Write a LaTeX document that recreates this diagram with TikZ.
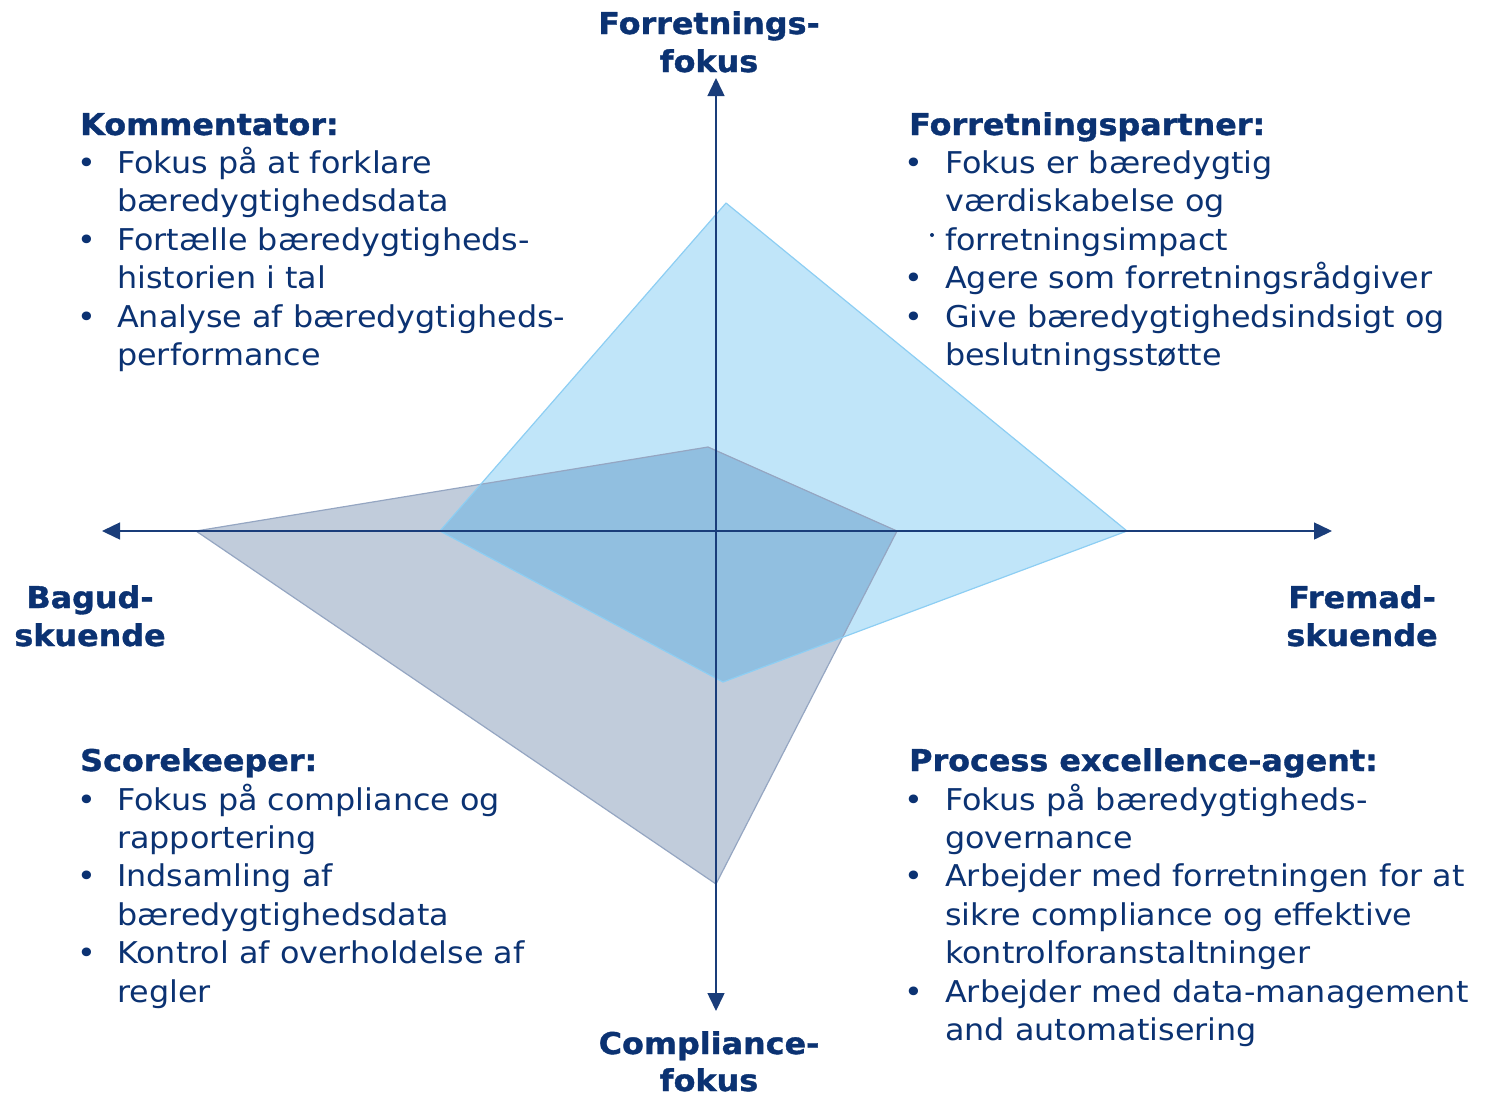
\documentclass[tikz,border=0pt]{standalone}
\usepackage{fontspec}
\setmainfont[FakeStretch=1.06, BoldFeatures={FakeBold=1.2}]{DejaVu Sans}
\usetikzlibrary{arrows.meta}
\definecolor{navy}{HTML}{0B3272}
\definecolor{axisc}{HTML}{1A3D7A}
\definecolor{grayfill}{HTML}{C1CCDB}
\definecolor{grayedge}{HTML}{95A6C2}
\definecolor{bluefill}{HTML}{C0E5F9}
\definecolor{blueedge}{HTML}{8DCEF3}
\definecolor{overlap}{HTML}{91BFE0}
\tikzset{
  body/.style={anchor=base west, inner sep=0, text=navy, font=\fontsize{30}{36}\selectfont},
  ttl/.style={anchor=base west, inner sep=0, text=navy, font=\fontsize{30}{36}\selectfont\bfseries},
  blt/.style={anchor=base, inner sep=0, text=navy, font=\fontsize{30}{36}\selectfont},
  axlab/.style={anchor=base, inner sep=0, text=navy, font=\fontsize{30}{36}\selectfont\bfseries},
  axisline/.style={draw=axisc, line width=1.5pt, -{Triangle[length=18pt,width=17pt]}},
}
\begin{document}
\begin{tikzpicture}[x=1pt,y=-1pt]
\useasboundingbox (0,0) rectangle (1501,1096);
% polygon corners
\coordinate (bT) at (726,203);
\coordinate (bR) at (1127,531);
\coordinate (bB) at (723,682);
\coordinate (bL) at (440,531);
\coordinate (gL) at (196,531);
\coordinate (gT) at (708,447);
\coordinate (gR) at (897,531);
\coordinate (gB) at (716,884);
% fills
\fill[grayfill] (gL) -- (gT) -- (gR) -- (gB) -- cycle;
\fill[bluefill] (bT) -- (bR) -- (bB) -- (bL) -- cycle;
\begin{scope}
  \clip (gL) -- (gT) -- (gR) -- (gB) -- cycle;
  \fill[overlap] (bT) -- (bR) -- (bB) -- (bL) -- cycle;
\end{scope}
\draw[grayedge, line width=1.2pt, line join=round] (gL) -- (gT) -- (gR) -- (gB) -- cycle;
\draw[blueedge, line width=1.2pt, line join=round] (bT) -- (bR) -- (bB) -- (bL) -- cycle;
% axes
\coordinate (O) at (716,531);
\coordinate (yT) at (716,78);
\coordinate (yB) at (716,1011);
\coordinate (xL) at (102,531);
\coordinate (xR) at (1332,531);
\draw[axisline] (O) -- (yT);
\draw[axisline] (O) -- (yB);
\draw[axisline] (O) -- (xL);
\draw[axisline] (O) -- (xR);
% axis labels
\node[axlab] (t1) at (709,34) {Forretnings-};
\node[axlab] (t2) at (709,72) {fokus};
\node[axlab] (l1) at (90,608) {Bagud-};
\node[axlab] (l2) at (90,646) {skuende};
\node[axlab] (r1) at (1362,608) {Fremad-};
\node[axlab] (r2) at (1362,646) {skuende};
\node[axlab] (b1) at (709,1054) {Compliance-};
\node[axlab] (b2) at (709,1091) {fokus};
% Kommentator
\node[ttl] (kt) at (80,135) {Kommentator:};
\node[blt] (kb1) at (87,173) {•};
\node[body] (k1) at (117,173) {Fokus på at forklare};
\node[body] (k2) at (117,211) {bæredygtighedsdata};
\node[blt] (kb2) at (87,250) {•};
\node[body] (k3) at (117,250) {Fortælle bæredygtigheds-};
\node[body] (k4) at (117,288) {historien i tal};
\node[blt] (kb3) at (87,327) {•};
\node[body] (k5) at (117,327) {Analyse af bæredygtigheds-};
\node[body] (k6) at (117,365) {performance};
% Forretningspartner
\node[ttl] (ft) at (909,135) {Forretningspartner:};
\node[blt] (fb1) at (914,173) {•};
\node[body] (f1) at (945,173) {Fokus er bæredygtig};
\node[body] (f2) at (945,211) {værdiskabelse og};
\fill[navy] (932,235) circle (2);
\node[body] (f3) at (945,250) {forretningsimpact};
\node[blt] (fb2) at (914,288) {•};
\node[body] (f4) at (945,288) {Agere som forretningsrådgiver};
\node[blt] (fb3) at (914,327) {•};
\node[body] (f5) at (945,327) {Give bæredygtighedsindsigt og};
\node[body] (f6) at (945,365) {beslutningsstøtte};
% Scorekeeper
\node[ttl] (st) at (80,771) {Scorekeeper:};
\node[blt] (sb1) at (87,810) {•};
\node[body] (s1) at (117,810) {Fokus på compliance og};
\node[body] (s2) at (117,848) {rapportering};
\node[blt] (sb2) at (87,886) {•};
\node[body] (s3) at (117,886) {Indsamling af};
\node[body] (s4) at (117,925) {bæredygtighedsdata};
\node[blt] (sb3) at (87,963) {•};
\node[body] (s5) at (117,963) {Kontrol af overholdelse af};
\node[body] (s6) at (117,1002) {regler};
% Process excellence-agent
\node[ttl] (pt) at (909,771) {Process excellence-agent:};
\node[blt] (pb1) at (914,810) {•};
\node[body] (p1) at (945,810) {Fokus på bæredygtigheds-};
\node[body] (p2) at (945,848) {governance};
\node[blt] (pb2) at (914,886) {•};
\node[body] (p3) at (945,886) {Arbejder med forretningen for at};
\node[body] (p4) at (945,925) {sikre compliance og effektive};
\node[body] (p5) at (945,963) {kontrolforanstaltninger};
\node[blt] (pb3) at (914,1002) {•};
\node[body] (p6) at (945,1002) {Arbejder med data-management};
\node[body] (p7) at (945,1040) {and automatisering};
\end{tikzpicture}
\end{document}
